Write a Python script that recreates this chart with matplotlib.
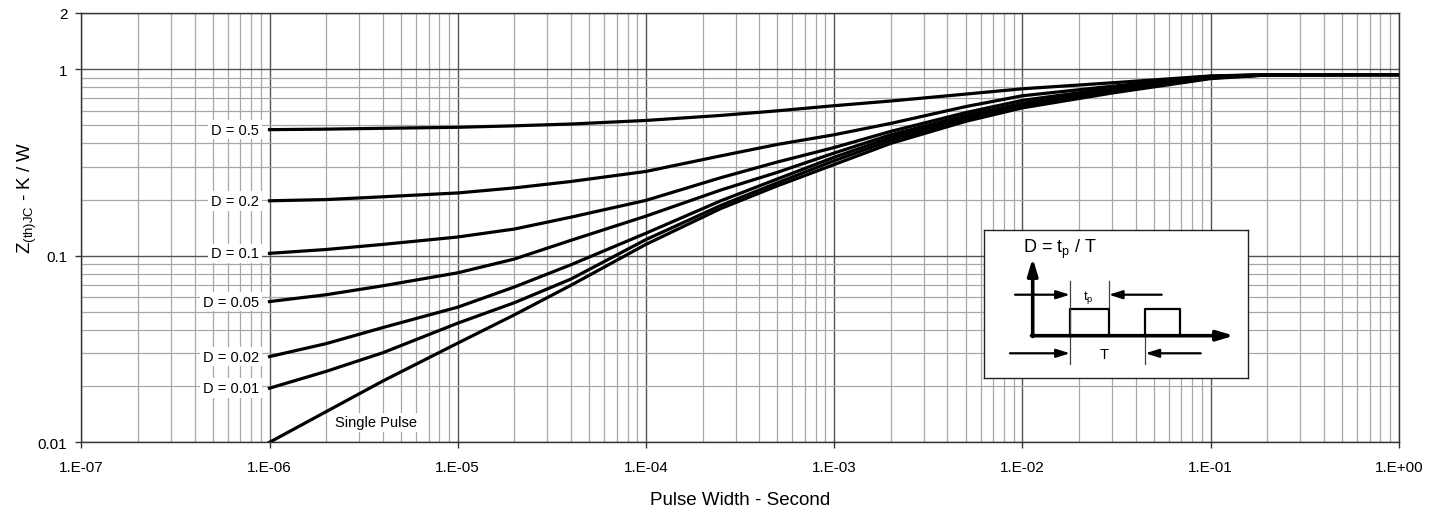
import matplotlib
matplotlib.use("Agg")
import matplotlib.pyplot as plt
from matplotlib.ticker import LogLocator, FixedLocator, NullFormatter

plt.rcParams['font.family'] = ['Liberation Sans', 'DejaVu Sans']
plt.rcParams['mathtext.fontset'] = 'custom'
plt.rcParams['mathtext.rm'] = 'Liberation Sans'

# --- data (pulse width in s, Zth in K/W) ---
pulse_width = [1e-6, 2e-6, 4e-6, 1e-5, 2e-5, 4e-5, 1e-4, 2.5e-4, 5e-4,
               1e-3, 2e-3, 5e-3, 1e-2, 3e-2, 1e-1, 2e-1, 1.0]

z_d05 = [0.474, 0.477, 0.482, 0.488, 0.497, 0.508, 0.531, 0.565, 0.598,
         0.637, 0.675, 0.735, 0.785, 0.845, 0.920, 0.935, 0.935]
z_d02 = [0.197, 0.200, 0.207, 0.217, 0.231, 0.250, 0.283, 0.343, 0.395,
         0.445, 0.512, 0.630, 0.720, 0.810, 0.915, 0.935, 0.935]
z_d01 = [0.103, 0.108, 0.115, 0.126, 0.139, 0.161, 0.198, 0.262, 0.318,
         0.380, 0.464, 0.585, 0.680, 0.790, 0.910, 0.932, 0.935]
z_d005 = [0.0568, 0.0618, 0.0690, 0.0810, 0.0960, 0.121, 0.163, 0.225, 0.280,
          0.355, 0.445, 0.565, 0.655, 0.780, 0.905, 0.932, 0.935]
z_d002 = [0.0288, 0.0338, 0.0412, 0.0530, 0.0680, 0.0895, 0.132, 0.197, 0.258,
          0.337, 0.430, 0.550, 0.640, 0.770, 0.900, 0.932, 0.935]
z_d001 = [0.0195, 0.0240, 0.0302, 0.0435, 0.0560, 0.0750, 0.122, 0.186, 0.246,
          0.323, 0.415, 0.540, 0.630, 0.760, 0.895, 0.932, 0.935]
z_single = [0.0100, 0.0146, 0.0213, 0.0340, 0.0482, 0.0695, 0.115, 0.179, 0.237,
            0.308, 0.400, 0.525, 0.620, 0.745, 0.890, 0.930, 0.935]

curves = [z_d05, z_d02, z_d01, z_d005, z_d002, z_d001, z_single]
curve_labels = ['D = 0.5', 'D = 0.2', 'D = 0.1', 'D = 0.05', 'D = 0.02', 'D = 0.01']

x_ticks = [1e-7, 1e-6, 1e-5, 1e-4, 1e-3, 1e-2, 1e-1, 1.0]
x_tick_labels = ['1.E-07', '1.E-06', '1.E-05', '1.E-04', '1.E-03', '1.E-02', '1.E-01', '1.E+00']
y_ticks = [0.01, 0.1, 1, 2]
y_tick_labels = ['0.01', '0.1', '1', '2']

# --- figure ---
W, H = 1444, 510
fig = plt.figure(figsize=(W / 100, H / 100), dpi=100)
ax = fig.add_axes([81.3 / W, 66.7 / H, (1398.7 - 81.3) / W, (496 - 66.7) / H])

ax.set_xscale('log')
ax.set_yscale('log')
ax.set_xlim(1e-7, 1)
ax.set_ylim(0.01, 2)

ax.xaxis.set_major_locator(FixedLocator(x_ticks))
ax.set_xticklabels(x_tick_labels)
ax.yaxis.set_major_locator(FixedLocator(y_ticks))
ax.set_yticklabels(y_tick_labels)
ax.xaxis.set_minor_locator(LogLocator(base=10, subs=range(2, 10), numticks=20))
ax.yaxis.set_minor_locator(LogLocator(base=10, subs=range(2, 10), numticks=20))
ax.xaxis.set_minor_formatter(NullFormatter())
ax.yaxis.set_minor_formatter(NullFormatter())

ax.tick_params(which='major', direction='out', length=4, width=1, color='#333333',
               labelsize=11, pad=6)
ax.tick_params(axis='x', which='major', pad=9)
ax.tick_params(which='minor', length=0)

ax.set_axisbelow(True)
ax.grid(which='minor', color='#a8a8a8', lw=0.9)
ax.grid(which='major', color='#555555', lw=1.0)
for s in ax.spines.values():
    s.set_color('#333333')
    s.set_linewidth(1.0)

for z in curves:
    ax.plot(pulse_width, z, color='black', lw=2.3, solid_joinstyle='round', zorder=3)

# curve labels to the left of the start points
for lab, z in zip(curve_labels, curves):
    ax.text(8.8e-7, z[0], lab, ha='right', va='center', fontsize=10.5, zorder=4,
            bbox=dict(facecolor='white', edgecolor='none', pad=2))
ax.text(3.67e-6, 0.0128, 'Single Pulse', ha='center', va='center', fontsize=10.5,
        zorder=4, bbox=dict(facecolor='white', edgecolor='none', pad=2))

ax.set_xlabel('Pulse Width - Second', fontsize=13.5, labelpad=12)
ax.set_ylabel(r'Z$_{\mathregular{(th)JC}}$ - K / W', fontsize=13.5)
ax.yaxis.set_label_coords(-0.032, 0.571)

# --- inset diagram (duty cycle definition) ---
ins = fig.add_axes([984 / W, (H - 379) / H, 264 / W, 148 / H])
ins.set_xlim(0, 264)
ins.set_ylim(148, 0)
ins.set_xticks([])
ins.set_yticks([])
ins.set_facecolor('white')
for s in ins.spines.values():
    s.set_color('#222222')
    s.set_linewidth(1.0)

ins.text(39, 22, r'D = t$_\mathregular{p}$ / T', fontsize=13, ha='left', va='baseline')

arrow_kw = dict(arrowstyle='-|>,head_length=0.8,head_width=0.25', color='black',
                lw=1.6, shrinkA=0, shrinkB=0)
axis_kw = dict(arrowstyle='-|>,head_length=1.0,head_width=0.3', color='black',
               lw=2.6, shrinkA=0, shrinkB=0)
# axes of the pulse diagram
ins.annotate('', xy=(48.7, 28), xytext=(48.7, 106.5), arrowprops=axis_kw)
ins.annotate('', xy=(250, 105.7), xytext=(47.5, 105.7), arrowprops=axis_kw)
# pulses
ins.plot([86, 86, 124.7, 124.7], [105.7, 79, 79, 105.7], color='black', lw=1.6)
ins.plot([161.3, 161.3, 196, 196], [105.7, 79, 79, 105.7], color='black', lw=1.6)
# extension lines
ins.plot([86, 86], [50.7, 134], color='#444444', lw=0.9)
ins.plot([124.7, 124.7], [50.7, 77], color='#444444', lw=0.9)
ins.plot([161.3, 161.3], [107, 134], color='#444444', lw=0.9)
# tp arrows
ins.annotate('', xy=(86, 64.7), xytext=(31, 64.7), arrowprops=arrow_kw)
ins.annotate('', xy=(124.7, 64.7), xytext=(177.7, 64.7), arrowprops=arrow_kw)
ins.text(104.5, 66, r't$_\mathregular{p}$', fontsize=9.5, ha='center', va='center')
# T arrows
ins.annotate('', xy=(86, 123.3), xytext=(26, 123.3), arrowprops=arrow_kw)
ins.annotate('', xy=(161.3, 123.3), xytext=(216.7, 123.3), arrowprops=arrow_kw)
ins.text(120, 124, 'T', fontsize=10.5, ha='center', va='center')

fig.savefig('out.png', dpi=100)
